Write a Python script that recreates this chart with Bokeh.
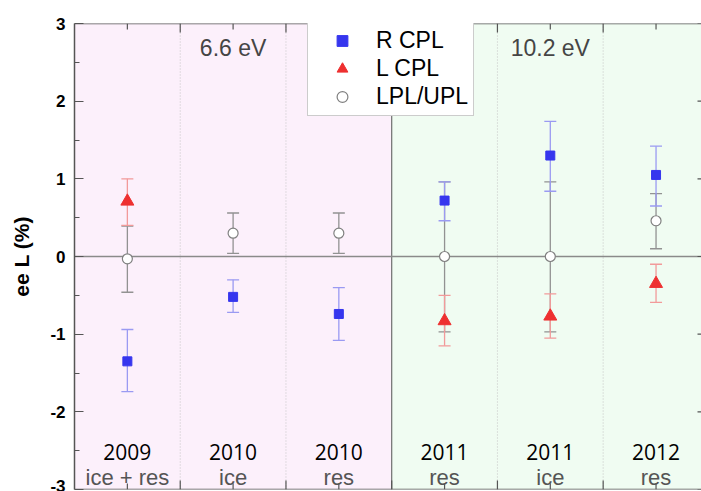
from bokeh.plotting import figure
from bokeh.models import (ColumnDataSource, Whisker, TeeHead, Span, BoxAnnotation,
                          FixedTicker, LinearAxis, Range1d)
from bokeh.core.properties import value
from bokeh.embed import file_html
from bokeh.resources import INLINE

# ---------------- data ----------------
years = ["2009", "2010", "2010", "2011", "2011", "2012"]
kinds = ["ice + res", "ice", "res", "res", "ice", "res"]
energies = ["6.6 eV", "10.2 eV"]
energy_groups = [[1, 2, 3], [4, 5, 6]]   # category positions per energy

r_x = [1, 2, 3, 4, 5, 6]
r_val = [-1.35, -0.52, -0.74, 0.72, 1.30, 1.05]
r_up = [-0.94, -0.30, -0.40, 0.96, 1.74, 1.42]
r_lo = [-1.74, -0.72, -1.08, 0.46, 0.84, 0.65]

l_x = [1, 4, 5, 6]
l_val = [0.71, -0.83, -0.77, -0.35]
l_up = [1.00, -0.50, -0.48, -0.10]
l_lo = [0.40, -1.15, -1.05, -0.59]

p_x = [1, 2, 3, 4, 5, 6]
p_val = [-0.03, 0.30, 0.30, 0.00, 0.00, 0.46]
p_up = [0.39, 0.56, 0.56, 0.96, 0.96, 0.81]
p_lo = [-0.46, 0.04, 0.04, -0.97, -0.97, 0.10]

y_ticks = [-3, -2, -1, 0, 1, 2, 3]
y_minor = [-2.5, -1.5, -0.5, 0.5, 1.5, 2.5]

# ---------------- figure ----------------
n = len(years)
centers = list(range(1, n + 1))
dividers = [c + 0.5 for c in centers[:-1]]

W, H = 701, 491
BL, BT, BB, BR = 74, 23, 2, 0
X0, X1 = 0.5, 6.43
Y0, Y1 = -3, 3
p = figure(width=W, height=H, output_backend="svg", toolbar_location=None,
           x_range=Range1d(X0, X1), y_range=Range1d(Y0, Y1),
           min_border_left=BL, min_border_top=BT, min_border_bottom=BB,
           min_border_right=BR, x_axis_location=None, y_axis_location=None)
p.outline_line_color = None
p.grid.visible = False
p.background_fill_color = "white"
p.border_fill_color = "white"
ypx = (Y1 - Y0) / (H - BT - BB)   # data units per pixel (vertical)
xpx = (X1 - X0) / (W - BL - BR)   # data units per pixel (horizontal)

# background regions
bg_colors = ["#fcf0fb", "#f0fcf2"]
for grp, col in zip(energy_groups, bg_colors):
    p.add_layout(BoxAnnotation(left=min(grp) - 0.5, right=max(grp) + 0.5,
                               fill_color=col, fill_alpha=1.0, line_color=None,
                               level="image"))

# dividers
for d in dividers:
    boundary = any(d == max(g) + 0.5 for g in energy_groups[:-1])
    if boundary:
        p.add_layout(Span(location=d, dimension="height", line_color="#6e6e6e",
                          line_width=1.2, level="underlay"))
    else:
        p.add_layout(Span(location=d, dimension="height", line_color="#c4c4c4",
                          line_width=1, line_dash="1 2", level="underlay"))

# zero line
p.add_layout(Span(location=0, dimension="width", line_color="#8a8a8a",
                  line_width=1.5, level="underlay"))

# left axis
yax = LinearAxis(ticker=FixedTicker(ticks=y_ticks, minor_ticks=y_minor))
yax.axis_line_color = "#555555"
yax.axis_line_width = 1.5
yax.major_tick_in = 9
yax.major_tick_out = 0
yax.minor_tick_in = 5
yax.minor_tick_out = 0
yax.major_tick_line_color = "#555555"
yax.minor_tick_line_color = "#555555"
yax.major_label_overrides = {t: str(t) for t in y_ticks}
yax.major_label_text_font = "Liberation Sans"
yax.major_label_text_font_style = "bold"
yax.major_label_text_font_size = "17px"
yax.major_label_text_color = "black"
yax.major_label_standoff = 9
yax.axis_label = "ee L (%)"
yax.axis_label_text_font = "Liberation Sans"
yax.axis_label_text_font_style = "bold"
yax.axis_label_text_font_size = "21px"
yax.axis_label_text_color = "black"
yax.axis_label_standoff = 14
p.add_layout(yax, "left")

# top / bottom frame lines with inward ticks
for yl, sgn in [(Y1, -1), (Y0, 1)]:
    p.add_layout(Span(location=yl, dimension="width", line_color="#555555",
                      line_width=1.5, level="overlay"))
    p.segment(x0=dividers, y0=[yl] * len(dividers), x1=dividers,
              y1=[yl + sgn * 9 * ypx] * len(dividers), line_color="#555555",
              line_width=1.2)
    p.segment(x0=centers, y0=[yl] * n, x1=centers,
              y1=[yl + sgn * 6 * ypx] * n, line_color="#555555", line_width=1.2)

# tips of the (cropped) right-axis ticks at the right edge
p.segment(x0=[X1 - 4 * xpx] * len(y_ticks), y0=y_ticks, x1=[X1] * len(y_ticks),
          y1=y_ticks, line_color="#555555", line_width=1.2)

# error bars
def whisk(xs, lo, up, color):
    src = ColumnDataSource(dict(x=xs, lower=lo, upper=up))
    w = Whisker(base="x", lower="lower", upper="upper", source=src,
                line_color=color, line_width=1.3,
                upper_head=TeeHead(size=12, line_color=color, line_width=1.3),
                lower_head=TeeHead(size=12, line_color=color, line_width=1.3),
                level="underlay")
    p.add_layout(w)

whisk(p_x, p_lo, p_up, "#929292")
whisk(r_x, r_lo, r_up, "#9a9af2")
whisk(l_x, l_lo, l_up, "#f29a9a")

# markers
p.scatter(r_x, r_val, marker="square", size=9, fill_color="#3636ee",
          line_color="#3636ee", legend_label="R CPL")
p.scatter(l_x, l_val, marker="triangle", size=13, fill_color="#ee3030",
          line_color="#ee3030", legend_label="L CPL")
p.scatter(p_x, p_val, marker="circle", size=10, fill_color="white",
          line_color="#808080", line_width=1.2, legend_label="LPL/UPL")

# energy labels
p.text(x=[sum(g) / len(g) for g in energy_groups], y=[2.69] * len(energies),
       text=energies, text_font=value("Liberation Sans"), text_font_size="23px",
       text_color="#454545", text_align="center", text_baseline="alphabetic")

# category labels
p.text(x=centers, y=[-2.52] * n, text=years, text_font=value("Open Sans"),
       text_font_size="21px", text_color="black", text_align="center",
       text_baseline="alphabetic")
p.text(x=centers, y=[-2.84] * n, text=kinds, text_font=value("Liberation Sans"),
       text_font_size="22px", text_color="#555555", text_align="center",
       text_baseline="alphabetic")

# legend
lg = p.legend[0]
LH = 93
lg.location = (233, (H - BT - BB) - LH)
lg.margin = 0
lg.padding = 5
lg.spacing = 1
lg.glyph_width = 58
lg.glyph_height = 27
lg.label_height = 27
lg.label_standoff = 5
lg.label_text_font = "Liberation Sans"
lg.label_text_font_size = "23px"
lg.label_text_color = "black"
lg.border_line_color = "#9a9a9a"
lg.border_line_width = 1
lg.background_fill_color = "white"
lg.background_fill_alpha = 1.0

open("out.html", "w").write(file_html(p, INLINE))
